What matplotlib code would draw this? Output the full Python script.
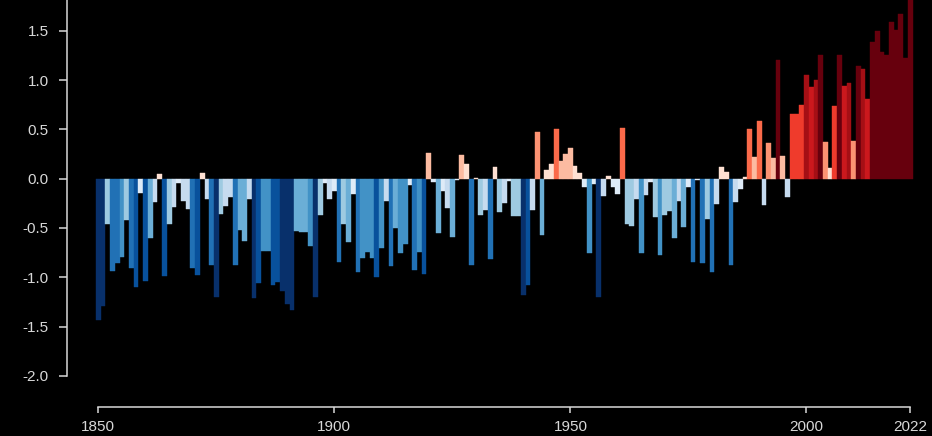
import numpy as np
import matplotlib
matplotlib.use("Agg")
import matplotlib.pyplot as plt

# Annual temperature anomaly (°C), 1850-2022
years = list(range(1850, 2023))
anomaly = [
    -1.43, -1.29, -0.46, -0.94, -0.86, -0.79, -0.42, -0.91, -1.10, -0.14,   # 1850s
    -1.04, -0.60, -0.24, 0.05, -0.99, -0.46, -0.29, -0.04, -0.23, -0.31,    # 1860s
    -0.91, -0.98, 0.06, -0.21, -0.88, -1.20, -0.36, -0.28, -0.19, -0.88,    # 1870s
    -0.52, -0.63, -0.21, -1.21, -1.06, -0.73, -0.73, -1.08, -1.05, -1.14,   # 1880s
    -1.27, -1.33, -0.53, -0.54, -0.54, -0.68, -1.20, -0.37, -0.04, -0.21,   # 1890s
    -0.12, -0.85, -0.46, -0.64, -0.16, -0.95, -0.80, -0.74, -0.80, -1.00,   # 1900s
    -0.70, -0.23, -0.89, -0.50, -0.75, -0.66, -0.06, -0.93, -0.74, -0.97,   # 1910s
    0.26, -0.035, -0.55, -0.12, -0.30, -0.59, -0.01, 0.24, 0.15, -0.875,    # 1920s
    0.01, -0.37, -0.32, -0.81, 0.12, -0.34, -0.245, -0.02, -0.38, -0.38,    # 1930s
    -1.18, -1.08, -0.32, 0.47, -0.57, 0.09, 0.15, 0.50, 0.175, 0.25,        # 1940s
    0.31, 0.13, 0.06, -0.08, -0.75, -0.05, -1.20, -0.18, 0.03, -0.08,       # 1950s
    -0.16, 0.51, -0.455, -0.475, -0.21, -0.75, -0.17, -0.03, -0.39, -0.77,  # 1960s
    -0.37, -0.33, -0.60, -0.225, -0.49, -0.08, -0.85, -0.01, -0.86, -0.41,  # 1970s
    -0.95, -0.26, 0.12, 0.066, -0.88, -0.24, -0.10, 0.02, 0.50, 0.22,       # 1980s
    0.59, -0.27, 0.36, 0.21, 1.20, 0.23, -0.19, 0.66, 0.66, 0.75,           # 1990s
    1.05, 0.93, 1.00, 1.26, 0.37, 0.11, 0.74, 1.25, 0.94, 0.97,             # 2000s
    0.38, 1.14, 1.11, 0.81, 1.39, 1.50, 1.29, 1.25, 1.59, 1.51,             # 2010s
    1.67, 1.22, 1.86,                                                       # 2020s
]

y_ticks = [-2.0, -1.5, -1.0, -0.5, 0.0, 0.5, 1.0, 1.5]
x_ticks = [1850, 1900, 1950, 2000, 2022]

# Stripe palette: 8 blues (cold) and 8 reds (warm), equal-width classes
palette = [
    "#08306b", "#08519c", "#2171b5", "#4292c6",
    "#6baed6", "#9ecae1", "#c6dbef", "#deebf7",
    "#fee0d2", "#fcbba1", "#fc9272", "#fb6a4a",
    "#ef3b2c", "#cb181d", "#a50f15", "#67000d",
]
step = 0.16
vals = np.array(anomaly)
idx = np.clip(np.floor(vals / step).astype(int) + 8, 0, 15)
colors = [palette[i] for i in idx]

fg = "#d8d8d8"
plt.rcParams["font.family"] = ["Liberation Sans", "DejaVu Sans"]
plt.rcParams["axes.unicode_minus"] = False

fig = plt.figure(figsize=(9.32, 4.36), dpi=100, facecolor="black")
ax = fig.add_axes([67 / 932, 29 / 436, 865 / 932, 407 / 436], facecolor="black")

ax.bar(years, vals, width=1.0, color=colors, edgecolor=colors, linewidth=0.3)

ax.set_xlim(1843.36, 2026.6)
ax.set_ylim(-2.316, 1.813)

ax.set_yticks(y_ticks)
ax.set_yticklabels([f"{t:.1f}" for t in y_ticks])
ax.set_xticks(x_ticks)
ax.set_xticklabels([str(t) for t in x_ticks])

for side in ("top", "right"):
    ax.spines[side].set_visible(False)
for side in ("left", "bottom"):
    ax.spines[side].set_color(fg)
    ax.spines[side].set_linewidth(1.1)
ax.spines["left"].set_bounds(-2.0, 2.5)
ax.spines["bottom"].set_bounds(1850, 2022)

ax.tick_params(axis="y", colors=fg, labelcolor=fg, length=6, width=1.1,
               pad=7, labelsize=11)
ax.tick_params(axis="x", colors=fg, labelcolor=fg, length=4.5, width=1.1,
               pad=4.5, labelsize=11)

fig.savefig("out.png", dpi=100, facecolor="black")
